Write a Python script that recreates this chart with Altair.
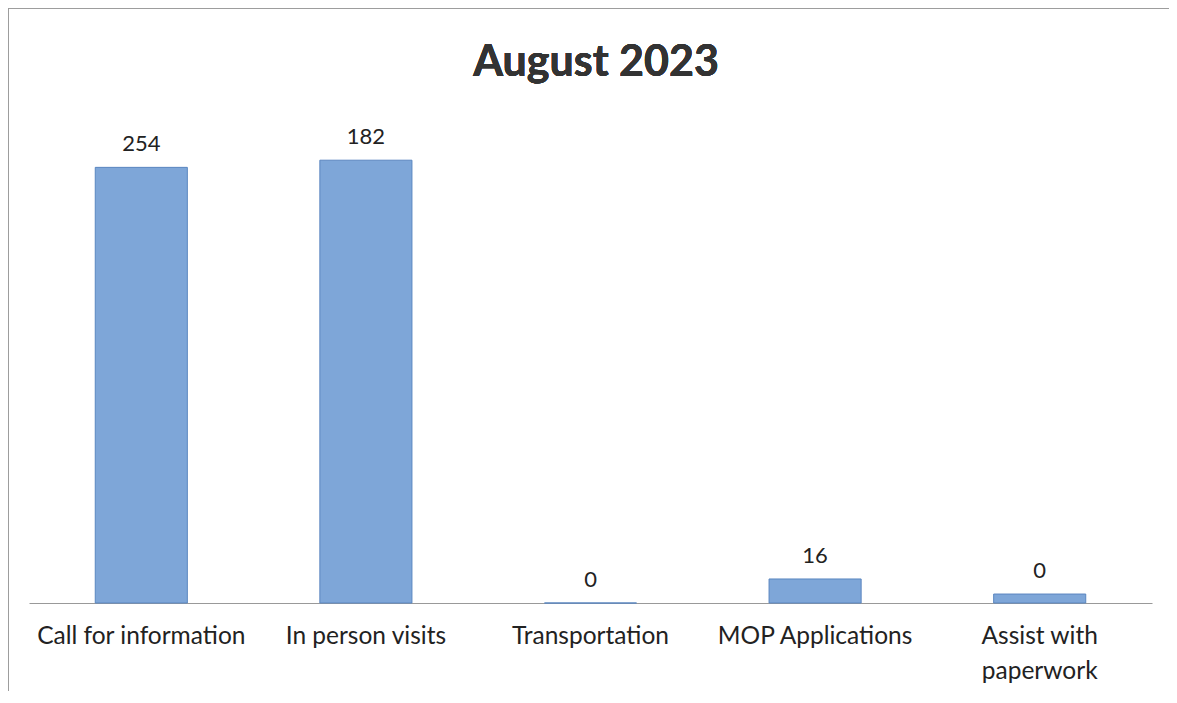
import altair as alt
import pandas as pd

categories = ["Call for information", "In person visits", "Transportation",
              "MOP Applications", "Assist with paperwork"]
# bar heights as drawn in the picture (relative units)
bar_values = [243, 247, 0, 13.4, 5]
# the printed data labels
label_texts = ["254", "182", "0", "16", "0"]
title_text = "August 2023"

df = pd.DataFrame({"cat": categories, "value": bar_values, "label": label_texts})

x = alt.X("cat:N", sort=categories, title=None,
          scale=alt.Scale(paddingInner=0.59, paddingOuter=0.295),
          axis=alt.Axis(labelAngle=0, ticks=False, labelPadding=21, labelFontSize=24.5,
                        labelFont="Lato", labelColor="#222", domainColor="#999",
                        labelLimit=300, labelLineHeight=35,
                        labelExpr="datum.label == 'Assist with paperwork' ? ['Assist with', 'paperwork'] : datum.label"))
y = alt.Y("value:Q", scale=alt.Scale(domain=[0, 275]), axis=None)

bars = alt.Chart(df).mark_bar(color="#7ea6d8", stroke="#5a86c0", strokeWidth=1).encode(x=x, y=y)
labels = alt.Chart(df).mark_text(dy=-23, baseline="middle", fontSize=22, font="Lato",
                                 color="#222").encode(x=x, y=y, text="label:N")

title = alt.Chart(df).mark_text(fontSize=43, font="Lato", fontWeight="bold", color="#333",
                                baseline="middle", align="center").encode(
    x=alt.value(567), y=alt.value(-47), text=alt.value(title_text))

border_left = alt.Chart(df).mark_rule(color="#999", strokeWidth=1).encode(
    x=alt.value(-21), y=alt.value(-102), y2=alt.value(600))
border_top = alt.Chart(df).mark_rule(color="#999", strokeWidth=1).encode(
    x=alt.value(-21), x2=alt.value(1160), y=alt.value(-102))

chart = alt.layer(border_left, border_top, bars, labels, title).properties(
    width=1123, height=493,
    autosize=alt.AutoSizeParams(type="none"),
    padding={"left": 21, "top": 102, "right": 17, "bottom": 88},
    background="white",
).configure_view(stroke="transparent", strokeWidth=0)

chart.save("out.html", embed_options={"renderer": "svg", "actions": False})
